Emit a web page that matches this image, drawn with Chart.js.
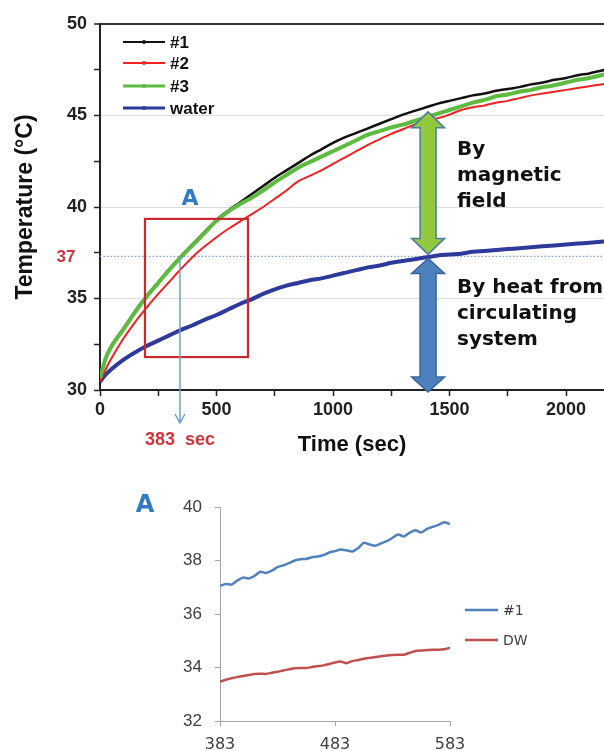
<!DOCTYPE html>
<html>
<head>
<meta charset="utf-8">
<script src="https://cdn.jsdelivr.net/npm/chart.js@4.4.1/dist/chart.umd.min.js"></script>
<style>
  html, body { margin: 0; padding: 0; background: #fff; }
  #wrap { position: relative; width: 604px; height: 751px; overflow: hidden; }
  #main { position: absolute; left: 0; top: 0; }
  #zoomA { position: absolute; left: 0; top: 480px; }
</style>
</head>
<body>
<div id="wrap">
  <canvas id="main" width="604" height="460"></canvas>
  <canvas id="zoomA" width="604" height="271"></canvas>
</div>
<script>
// main chart: temperature vs time (sec)
const times = [0, 25, 50, 100, 150, 200, 250, 300, 350, 400, 450, 500, 550, 600, 650, 700, 750, 800, 850, 900,
  950, 1000, 1050, 1100, 1150, 1200, 1250, 1300, 1350, 1400, 1450, 1500, 1550, 1600, 1650, 1700, 1750, 1800,
  1850, 1900, 1950, 2000, 2050, 2100, 2150, 2200];
const sample1 = [30.7, 31.8, 32.45, 33.35, 34.3, 35.15, 35.9, 36.65, 37.35, 38.0, 38.65, 39.3, 39.8,
  40.25, 40.7, 41.15, 41.6, 42.0, 42.4, 42.8, 43.15, 43.5, 43.8,
  44.05, 44.3, 44.55, 44.8, 45.05, 45.25, 45.45, 45.65, 45.8, 45.95,
  46.1, 46.2, 46.35, 46.45, 46.55, 46.7, 46.8, 46.95, 47.05, 47.2, 47.3, 47.45, 47.55];
const sample2 = [30.45, 31.15, 31.75, 32.8, 33.7, 34.5, 35.25, 35.95, 36.65, 37.3, 37.85, 38.35, 38.8,
  39.2, 39.6, 40.0, 40.45, 40.9, 41.4, 41.7, 42.0, 42.35, 42.7,
  43.05, 43.4, 43.7, 44.0, 44.25, 44.5, 44.7, 44.85, 45.05, 45.3,
  45.45, 45.55, 45.7, 45.8, 45.95, 46.1, 46.2, 46.3, 46.4, 46.5, 46.6, 46.7, 46.8];
const sample3 = [30.65, 31.75, 32.4, 33.3, 34.25, 35.1, 35.85, 36.6, 37.3, 37.95, 38.6, 39.25, 39.75,
  40.15, 40.5, 40.9, 41.35, 41.75, 42.15, 42.45, 42.75, 43.05, 43.35,
  43.65, 43.95, 44.15, 44.35, 44.5, 44.7, 44.9, 45.1, 45.3, 45.5,
  45.7, 45.85, 46.05, 46.15, 46.3, 46.4, 46.55, 46.65, 46.8, 46.95, 47.05, 47.2, 47.35];
const water = [30.45, 30.85, 31.15, 31.65, 32.05, 32.4, 32.7, 33.0, 33.3, 33.55, 33.85, 34.1, 34.4,
  34.7, 34.95, 35.25, 35.5, 35.7, 35.85, 36.0, 36.1, 36.25, 36.4,
  36.55, 36.7, 36.8, 36.95, 37.05, 37.15, 37.25, 37.35, 37.4, 37.45,
  37.55, 37.6, 37.65, 37.7, 37.75, 37.8, 37.85, 37.9, 37.95, 38.0, 38.05, 38.1, 38.15];
const xTicks = [0, 250, 500, 750, 1000, 1250, 1500, 1750, 2000];
const yTicks = [30, 32.5, 35, 37.5, 40, 42.5, 45, 47.5, 50];

// inset A: zoom on 383..583 sec
const zoomTimes = [383, 388, 393, 398, 403, 408, 413, 418, 423, 428, 433, 438, 443, 448, 453, 458, 463, 468,
  473, 478, 483, 488, 493, 498, 503, 508, 513, 518, 523, 528, 533, 538, 543, 548, 553, 558, 563, 568, 573, 578, 583];
const zoomS1 = [37.05, 37.12, 37.1, 37.25, 37.36, 37.33, 37.42, 37.58, 37.53, 37.62,
  37.75, 37.82, 37.9, 38.0, 38.05, 38.06, 38.12, 38.15, 38.2, 38.3,
  38.35, 38.41, 38.38, 38.34, 38.46, 38.66, 38.6, 38.55, 38.64, 38.72,
  38.85, 38.97, 38.9, 39.04, 39.13, 39.05, 39.18, 39.26, 39.33, 39.43, 39.36];
const zoomDW = [33.47, 33.54, 33.6, 33.64, 33.68, 33.72, 33.76, 33.77, 33.76, 33.8,
  33.84, 33.89, 33.93, 33.97, 33.98, 33.98, 34.02, 34.05, 34.08, 34.13,
  34.19, 34.22, 34.16, 34.24, 34.28, 34.33, 34.36, 34.39, 34.42, 34.45,
  34.47, 34.48, 34.48, 34.55, 34.62, 34.64, 34.65, 34.66, 34.66, 34.68, 34.74];
const zoomTicks = [383, 483, 583];

const pts = (xs, ys) => xs.map((x, i) => ({ x: x, y: ys[i] }));

const TICK_FONT = { family: 'Liberation Sans', size: 18, weight: 'bold' };
const REF_TEMP = 37.3;
const MARK_T = 343;
const ARROW_T = 1408;

function doubleArrow(ctx, xc, yTop, yBot, shaftW, headW, headL, fill, stroke) {
  const hs = shaftW / 2, hh = headW / 2;
  ctx.beginPath();
  ctx.moveTo(xc, yTop);
  ctx.lineTo(xc + hh, yTop + headL);
  ctx.lineTo(xc + hs, yTop + headL);
  ctx.lineTo(xc + hs, yBot - headL);
  ctx.lineTo(xc + hh, yBot - headL);
  ctx.lineTo(xc, yBot);
  ctx.lineTo(xc - hh, yBot - headL);
  ctx.lineTo(xc - hs, yBot - headL);
  ctx.lineTo(xc - hs, yTop + headL);
  ctx.lineTo(xc - hh, yTop + headL);
  ctx.closePath();
  ctx.fillStyle = fill;
  ctx.fill();
  ctx.strokeStyle = stroke;
  ctx.lineWidth = 1.5;
  ctx.stroke();
}

const topDecor = {
  id: 'topDecor',
  beforeDatasetsDraw(chart) {
    const { ctx, chartArea: a, scales: { y } } = chart;
    const yy = y.getPixelForValue(REF_TEMP);
    ctx.save();
    ctx.strokeStyle = '#7a9fdc';
    ctx.lineWidth = 1.2;
    ctx.setLineDash([1.5, 2]);
    ctx.beginPath();
    ctx.moveTo(a.left, yy);
    ctx.lineTo(a.right, yy);
    ctx.stroke();
    ctx.restore();
  },
  afterDatasetsDraw(chart) {
    const { ctx, scales: { x, y } } = chart;
    const yRef = y.getPixelForValue(REF_TEMP);
    ctx.save();

    // zoom box
    const bx1 = x.getPixelForValue(193), bx2 = x.getPixelForValue(635);
    const by1 = y.getPixelForValue(39.35), by2 = y.getPixelForValue(31.8);
    ctx.strokeStyle = '#c8282e';
    ctx.lineWidth = 2.2;
    ctx.strokeRect(bx1, by1, bx2 - bx1, by2 - by1);

    // 383 sec marker
    const mx = x.getPixelForValue(MARK_T);
    ctx.strokeStyle = '#6f9fd8';
    ctx.lineWidth = 1.5;
    ctx.beginPath();
    ctx.moveTo(mx, yRef);
    ctx.lineTo(mx, 423);
    ctx.moveTo(mx - 5, 414);
    ctx.lineTo(mx, 423);
    ctx.lineTo(mx + 5, 414);
    ctx.stroke();

    // double arrows
    const ax = x.getPixelForValue(ARROW_T);
    doubleArrow(ctx, ax, y.getPixelForValue(45.2), yRef - 2, 16, 33, 16, '#92c83e', '#4f7aa6');
    doubleArrow(ctx, ax, yRef + 2, y.getPixelForValue(30) + 2, 16, 33, 15, '#4e80bd', '#3a66a0');

    // texts
    ctx.fillStyle = '#111';
    ctx.font = 'bold 20px "DejaVu Sans"';
    ctx.textAlign = 'left';
    ctx.textBaseline = 'alphabetic';
    ['By', 'magnetic', 'field'].forEach((t, i) => ctx.fillText(t, 457, 155 + i * 26));
    ['By heat from', 'circulating', 'system'].forEach((t, i) => ctx.fillText(t, 457, 293 + i * 26));

    ctx.textAlign = 'center';
    ctx.textBaseline = 'middle';
    ctx.fillStyle = '#2f7bc4';
    ctx.font = 'bold 22px "DejaVu Sans"';
    ctx.fillText('A', 190, 199);

    ctx.fillStyle = '#d0343c';
    ctx.font = 'bold 17px "Liberation Sans"';
    ctx.fillText('37', 66, yRef + 1);
    ctx.font = 'bold 18px "Liberation Sans"';
    ctx.fillText('383  sec', mx, 440);

    // legend
    const rows = [42, 63, 86, 108];
    chart.data.datasets.forEach((ds, i) => {
      const ly = rows[i];
      ctx.strokeStyle = ds.borderColor;
      ctx.lineWidth = ds.borderWidth > 3 ? 3 : 2;
      ctx.beginPath();
      ctx.moveTo(123, ly);
      ctx.lineTo(165, ly);
      ctx.stroke();
      ctx.fillStyle = ds.borderColor;
      ctx.beginPath();
      ctx.arc(144, ly, 2, 0, Math.PI * 2);
      ctx.fill();
      ctx.fillStyle = '#111';
      ctx.font = 'bold 17px "Liberation Sans"';
      ctx.textAlign = 'left';
      ctx.fillText(ds.label, 170, ly + 1);
    });
    ctx.restore();
  }
};

new Chart(document.getElementById('main'), {
  type: 'line',
  data: {
    datasets: [
      { label: '#1', data: pts(times, sample1), borderColor: '#111111', borderWidth: 2.5, order: 1 },
      { label: '#2', data: pts(times, sample2), borderColor: '#ee2222', borderWidth: 2, order: 2 },
      { label: '#3', data: pts(times, sample3), borderColor: '#5dbb3f', borderWidth: 4, order: 0 },
      { label: 'water', data: pts(times, water), borderColor: '#2e3a9a', borderWidth: 4, order: 3 },
    ],
  },
  options: {
    responsive: false,
    animation: false,
    layout: { padding: { left: 0, right: 0, top: 24, bottom: 0 }, autoPadding: false },
    elements: { point: { radius: 0 }, line: { cubicInterpolationMode: 'monotone' } },
    plugins: { legend: { display: false }, tooltip: { enabled: false } },
    scales: {
      x: {
        type: 'linear',
        min: 0,
        max: 2163,
        afterBuildTicks: (s) => { s.ticks = xTicks.map((v) => ({ value: v })); },
        afterFit: (s) => { s.height = 70; },
        grid: { drawOnChartArea: false, tickLength: 6, tickColor: '#222', tickWidth: 1.5 },
        border: { color: '#222', width: 2 },
        ticks: {
          autoSkip: false,
          maxRotation: 0,
          padding: 3,
          color: '#222',
          font: TICK_FONT,
          callback: (v) => (v % 500 === 0 ? v : ''),
        },
        title: {
          display: true,
          text: 'Time (sec)',
          color: '#111',
          font: { family: 'Liberation Sans', size: 22, weight: 'bold' },
          padding: { top: 0, bottom: 2 },
        },
      },
      y: {
        min: 30,
        max: 50,
        afterBuildTicks: (s) => { s.ticks = yTicks.map((v) => ({ value: v })); },
        afterFit: (s) => { s.width = 100; },
        grid: {
          color: (c) => {
            const v = c.tick.value;
            if (v === 50) return '#333';
            if (v % 5 === 0 && v !== 30) return '#dcdcdc';
            return 'rgba(0,0,0,0)';
          },
          lineWidth: (c) => (c.tick.value === 50 ? 2 : 1),
          tickLength: 6,
          tickColor: '#222',
          tickWidth: 1.5,
        },
        border: { color: '#222', width: 2 },
        ticks: {
          padding: 7,
          color: '#222',
          font: TICK_FONT,
          callback: (v) => (v % 5 === 0 ? v : ''),
        },
        title: {
          display: true,
          text: 'Temperature (°C)',
          color: '#111',
          font: { family: 'Liberation Sans', size: 23, weight: 'bold' },
          padding: { top: 12, bottom: 0 },
        },
      },
    },
  },
  plugins: [topDecor],
});

const zoomDecor = {
  id: 'zoomDecor',
  afterDatasetsDraw(chart) {
    const { ctx } = chart;
    ctx.save();
    ctx.fillStyle = '#2f7bc4';
    ctx.font = 'bold 24px "DejaVu Sans"';
    ctx.textAlign = 'center';
    ctx.textBaseline = 'middle';
    ctx.fillText('A', 145, 26);

    const rows = [130, 160];
    chart.data.datasets.forEach((ds, i) => {
      ctx.strokeStyle = ds.borderColor;
      ctx.lineWidth = 2.5;
      ctx.beginPath();
      ctx.moveTo(465, rows[i]);
      ctx.lineTo(498, rows[i]);
      ctx.stroke();
      ctx.fillStyle = '#404040';
      ctx.font = '14px "DejaVu Sans"';
      ctx.textAlign = 'left';
      ctx.fillText(ds.label, 503, rows[i] + 1);
    });
    ctx.restore();
  }
};

new Chart(document.getElementById('zoomA'), {
  type: 'line',
  data: {
    datasets: [
      { label: '#1', data: pts(zoomTimes, zoomS1), borderColor: '#4f81bd', borderWidth: 2.5 },
      { label: 'DW', data: pts(zoomTimes, zoomDW), borderColor: '#c0504d', borderWidth: 2.5 },
    ],
  },
  options: {
    responsive: false,
    animation: false,
    layout: { padding: { left: 0, right: 154, top: 27, bottom: 0 }, autoPadding: false },
    elements: { point: { radius: 0 }, line: { tension: 0.2 } },
    plugins: { legend: { display: false }, tooltip: { enabled: false } },
    scales: {
      x: {
        type: 'linear',
        min: 383,
        max: 583,
        afterBuildTicks: (s) => { s.ticks = zoomTicks.map((v) => ({ value: v })); },
        afterFit: (s) => { s.height = 30; },
        grid: { drawOnChartArea: false, tickLength: 5, tickColor: '#a6a6a6' },
        border: { color: '#a6a6a6', width: 1 },
        ticks: {
          autoSkip: false,
          maxRotation: 0,
          padding: 9,
          color: '#404040',
          font: { family: 'DejaVu Sans', size: 16 },
        },
      },
      y: {
        min: 32,
        max: 40,
        afterFit: (s) => { s.width = 220; },
        grid: { drawOnChartArea: false, tickLength: 5, tickColor: '#a6a6a6' },
        border: { color: '#a6a6a6', width: 1 },
        ticks: {
          stepSize: 2,
          padding: 13,
          color: '#404040',
          font: { family: 'Liberation Sans', size: 17 },
        },
      },
    },
  },
  plugins: [zoomDecor],
});
</script>
</body>
</html>
